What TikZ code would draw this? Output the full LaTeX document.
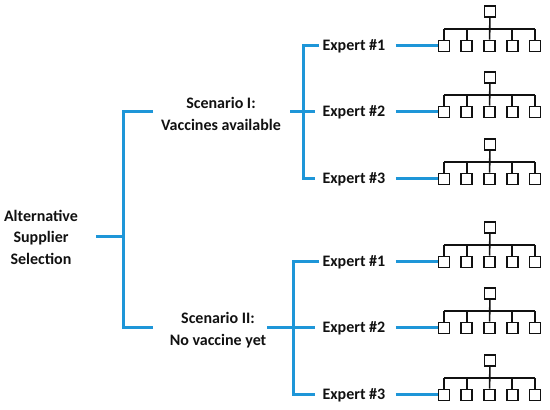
\documentclass[tikz,border=0pt]{standalone}
\usepackage{fontspec}
\setmainfont{Carlito}
\usepackage{xcolor}
\usepackage{tikz}
\usetikzlibrary{
  arrows.meta,
  positioning,
  calc
}
\definecolor{asBlue}{HTML}{1E96D8}
\definecolor{asInk}{HTML}{111111}
\tikzset{
  label text/.style={
    font=\fontsize{16}{21.5}\selectfont\bfseries, align=center, text=asInk
  },
  expert/.style={label text, anchor=west},
  leaf/.style={
    draw=asInk, line width=1.6pt, minimum width=11pt, minimum height=11pt,
    inner sep=0pt, fill=white
  },
  link/.style={line width=3pt, asBlue},
  tree/.style={line width=1.6pt, asInk}
}

\begin{document}
\begin{tikzpicture}[x=1pt, y=1pt]
  \useasboundingbox (0,0) rectangle (550,410);
  % goal and scenarios
  \node[label text] (alt) at (41,173) {Alternative\\Supplier\\Selection};
  \node[label text] (sc1) at (221,296) {Scenario I:\\Vaccines available};
  \node[label text] (sc2) at (218,80) {Scenario II:\\No vaccine yet};
  \coordinate (j0) at (123,173);
  \coordinate (s1in) at (153,298);
  \coordinate (s2in) at (153,82);
  \coordinate (s1out) at (290,298);
  \coordinate (s2out) at (267,82);
  \coordinate (va) at (303,298);
  \coordinate (vb) at (293,82);
  % experts with their hierarchies
  \foreach \g/\r/\y in {a/1/364, a/2/298, a/3/231, b/1/148, b/2/82, b/3/15}{
    \node[expert] (e\g\r) at (319,\y) {Expert \#\r};
    \foreach \k in {1,...,5}{
      \node[leaf] (l\g\r\k) at ({444+22.75*(\k-1)},\y) {};
    }
    \node[leaf] (t\g\r) at (490,{\y+34.5}) {};
    \coordinate (bar\g\r) at (490,{\y+17});
    \draw[tree] (t\g\r) -- (l\g\r3);
    \draw[tree] (l\g\r1.north |- bar\g\r) -- (l\g\r5.north |- bar\g\r);
    \foreach \k in {1,2,4,5}{\draw[tree] (l\g\r\k) -- (l\g\r\k.north |- bar\g\r);}
    \draw[link, shorten <=7pt] (e\g\r) -- (l\g\r1);
  }
  % blue brackets
  \draw[link, shorten <=15pt] (alt) -- (j0);
  \draw[link] (s1in) -| (j0) |- (s2in);
  \draw[link, shorten >=4pt] (ea1.west) -| (va) |- (ea3.west);
  \draw[link, shorten >=4pt] (eb1.west) -| (vb) |- (eb3.west);
  \foreach \s/\e in {s1out/ea2, s2out/eb2}{\draw[link, shorten >=4pt] (\s) -- (\e.west);}
\end{tikzpicture}
\end{document}
